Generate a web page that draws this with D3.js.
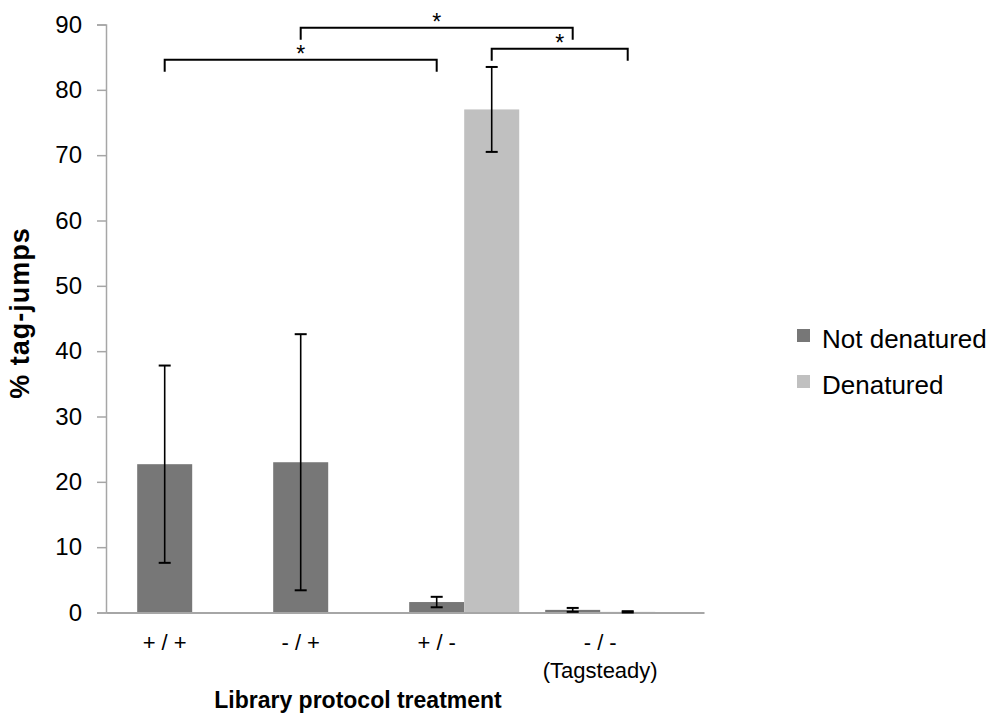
<!DOCTYPE html>
<html lang="en">
<head>
  <meta charset="utf-8">
  <title>% tag-jumps by library protocol treatment</title>
  <script src="https://cdn.jsdelivr.net/npm/d3@7"></script>
  <style>
    body { margin: 0; background: #fff; }
    svg text { font-family: "Liberation Sans", Arial, sans-serif; fill: #000; }
  </style>
</head>
<body>
<svg id="chart" width="993" height="713"></svg>
<script>
  // data
  const categories = ["+ / +", "- / +", "+ / -", "- / -"];
  const subLabels = ["", "", "", "(Tagsteady)"];
  const series = ["Not denatured", "Denatured"];
  const notDenatured = [22.7, 23.0, 1.6, 0.4];
  const notDenaturedErr = [15.1, 19.6, 0.8, 0.3];
  const denatured = [0, 0, 77.0, 0.1];
  const denaturedErr = [0, 0, 6.5, 0.1];
  const yTicks = [0, 10, 20, 30, 40, 50, 60, 70, 80, 90];
  // significance brackets: [category, series] -> [category, series], height in % units
  const compFrom = [["+ / +", "Not denatured"], ["- / +", "Not denatured"], ["+ / -", "Denatured"]];
  const compTo = [["+ / -", "Not denatured"], ["- / -", "Not denatured"], ["- / -", "Denatured"]];
  const compLevel = [84.6, 89.5, 86.3];

  const colors = { "Not denatured": "#777777", "Denatured": "#c0c0c0" };
  const axisColor = "#a6a6a6";

  const svg = d3.select("#chart");

  // scales
  const y = d3.scaleLinear().domain([0, 90]).range([612.5, 24.5]);
  const x0 = d3.scaleBand()
    .domain(categories)
    .range([106, 704])
    .paddingInner(0.191)
    .paddingOuter(0.294)
    .align(0.39);
  const x1 = d3.scaleBand().domain(series).range([0, x0.bandwidth()]);
  const barCenter = (c, s) => x0(c) + x1(s) + x1.bandwidth() / 2;

  // rows for the bars
  const rows = [];
  categories.forEach((c, i) => {
    rows.push({ cat: c, s: "Not denatured", v: notDenatured[i], e: notDenaturedErr[i] });
    rows.push({ cat: c, s: "Denatured", v: denatured[i], e: denaturedErr[i] });
  });

  // bars
  svg.append("g")
    .selectAll("rect")
    .data(rows)
    .enter()
    .append("rect")
      .attr("x", d => x0(d.cat) + x1(d.s))
      .attr("y", d => y(d.v))
      .attr("width", x1.bandwidth())
      .attr("height", d => y(0) - y(d.v))
      .style("fill", d => colors[d.s]);

  // y axis
  const yAxis = svg.append("g")
    .attr("transform", "translate(106,0)")
    .call(d3.axisLeft(y).tickValues(yTicks).tickSize(9).tickPadding(15));
  yAxis.select(".domain").attr("stroke", axisColor).attr("stroke-width", 1.5);
  yAxis.selectAll(".tick line").attr("stroke", axisColor).attr("stroke-width", 1.5);
  yAxis.selectAll(".tick text")
    .style("font-size", "24px")
    .style("font-family", "'Liberation Sans', Arial, sans-serif")
    .attr("fill", "#000");

  // x axis line (no ticks)
  const xAxis = svg.append("g")
    .attr("transform", `translate(0,${y(0)})`)
    .call(d3.axisBottom(x0).tickSize(0).tickFormat(""));
  xAxis.select(".domain").attr("stroke", axisColor).attr("stroke-width", 2);

  // error bars
  const err = svg.append("g").attr("stroke", "#000").attr("stroke-width", 1.6);
  const withErr = rows.filter(d => d.e > 0);
  err.selectAll(".stem")
    .data(withErr)
    .enter()
    .append("line")
      .attr("x1", d => barCenter(d.cat, d.s))
      .attr("x2", d => barCenter(d.cat, d.s))
      .attr("y1", d => y(d.v - d.e))
      .attr("y2", d => y(d.v + d.e));
  err.selectAll(".cap")
    .data(withErr.flatMap(d => [{ d: d, v: d.v - d.e }, { d: d, v: d.v + d.e }]))
    .enter()
    .append("line")
      .attr("x1", c => barCenter(c.d.cat, c.d.s) - 6)
      .attr("x2", c => barCenter(c.d.cat, c.d.s) + 6)
      .attr("y1", c => y(c.v))
      .attr("y2", c => y(c.v))
      .attr("stroke-width", 2);

  // category labels
  const labelX = (c, i) => subLabels[i] ? x0(c) + x0.bandwidth() / 2 : barCenter(c, "Not denatured");
  svg.append("g")
    .selectAll("text")
    .data(categories)
    .enter()
    .append("text")
      .attr("x", (c, i) => labelX(c, i))
      .attr("y", 650)
      .attr("text-anchor", "middle")
      .style("font-size", "22px")
      .text(c => c);
  svg.append("g")
    .selectAll("text")
    .data(categories)
    .enter()
    .append("text")
      .attr("x", (c, i) => labelX(c, i))
      .attr("y", 678)
      .attr("text-anchor", "middle")
      .style("font-size", "22px")
      .text((c, i) => subLabels[i]);

  // axis titles
  svg.append("text")
    .attr("x", 358)
    .attr("y", 708)
    .attr("text-anchor", "middle")
    .style("font-size", "23px")
    .style("font-weight", "bold")
    .text("Library protocol treatment");
  svg.append("text")
    .attr("transform", "translate(29,313) rotate(-90)")
    .attr("text-anchor", "middle")
    .style("font-size", "27px")
    .style("letter-spacing", "1px")
    .style("font-weight", "bold")
    .text("% tag-jumps");

  // significance brackets
  const drop = 12;
  const brackets = svg.append("g");
  compLevel.forEach((lv, i) => {
    const xa = barCenter(compFrom[i][0], compFrom[i][1]);
    const xb = barCenter(compTo[i][0], compTo[i][1]);
    const yl = y(lv);
    brackets.append("path")
      .attr("d", `M${xa},${yl + drop}V${yl}H${xb}V${yl + drop}`)
      .attr("fill", "none")
      .attr("stroke", "#000")
      .attr("stroke-width", 2);
    brackets.append("text")
      .attr("x", (xa + xb) / 2)
      .attr("y", yl + 2)
      .attr("text-anchor", "middle")
      .style("font-size", "23px")
      .text("*");
  });

  // legend
  const legend = svg.append("g")
    .selectAll("g")
    .data(series)
    .enter()
    .append("g")
      .attr("transform", (d, i) => `translate(797,${329 + i * 46})`);
  legend.append("rect")
    .attr("width", 13)
    .attr("height", 13)
    .style("fill", d => colors[d]);
  legend.append("text")
    .attr("x", 25)
    .attr("y", 19)
    .style("font-size", "26px")
    .text(d => d);
</script>
</body>
</html>
